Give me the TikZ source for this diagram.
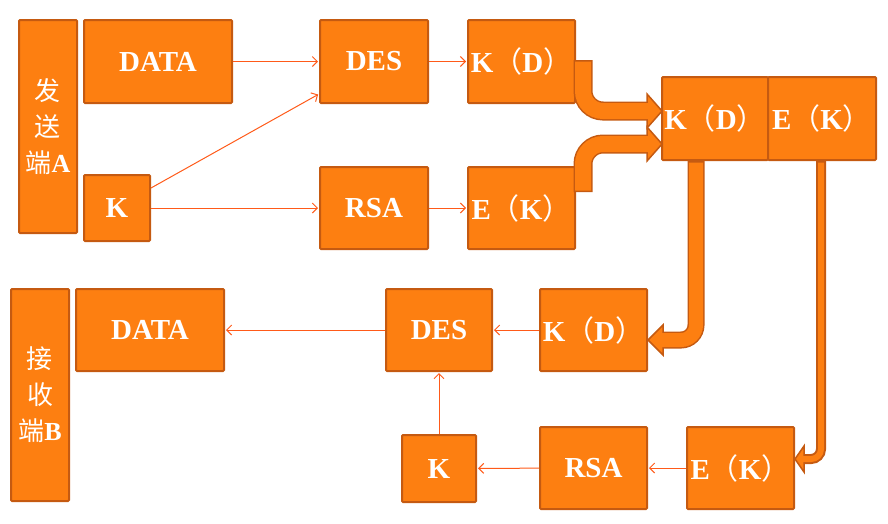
\documentclass[tikz,border=0pt]{standalone}
\usepackage{fontspec}
\setmainfont{Liberation Serif}
\newfontfamily\cjk{Noto Sans CJK SC}
\usetikzlibrary{positioning, arrows.meta}

\definecolor{boxfill}{RGB}{253,127,17}
\definecolor{boxline}{RGB}{197,90,17}
\definecolor{linkred}{RGB}{255,90,25}
\newcommand{\fwl}{{\cjk\mdseries （}}
\newcommand{\fwr}{{\cjk\mdseries ）}}

\begin{document}
\begin{tikzpicture}[x=1pt, y=-1pt,
    box/.style = {draw=boxline, fill=boxfill, line width=2pt, rounded corners=1pt,
                  text=white, inner sep=0pt, font=\fontsize{29}{32}\selectfont\bfseries},
    side/.style = {box, align=center, font=\fontsize{26}{36}\selectfont},
    arrow/.style = {draw=linkred, line width=1pt, shorten >=1pt,
                    -{Straight Barb[length=5pt, width=10pt]}},
    fatout/.style = {draw=boxline, line width=#1},
    fatin/.style = {draw=boxfill, line width=#1, shorten <=1.5pt},
    fathead/.style = {fill=boxfill, draw=boxline, line width=1.5pt}]

    \useasboundingbox (0,0) rectangle (888,523);

    % Sender
    \node [side, minimum width=58pt, minimum height=213pt] (send) at (48,126.5)
        {{\cjk 发}\\{\cjk 送}\\{\cjk 端}\textbf{A}};
    \node [box, minimum width=148pt, minimum height=83pt] (data1) at (158,61.5) {DATA};
    \node [box, minimum width=66pt, minimum height=66pt] (k1) at (117,208) {K};
    \node [box, minimum width=108pt, minimum height=83pt] (des1) at (374,61.5) {DES};
    \node [box, minimum width=107pt, minimum height=83pt] (kd1) at (521.5,61.5) {K\fwl D\fwr};
    \node [box, minimum width=108pt, minimum height=82pt] (rsa1) at (374,208) {RSA};
    \node [box, minimum width=107pt, minimum height=82pt] (ek1) at (521.5,208) {E\fwl K\fwr};

    % Packet
    \node [box, minimum width=106pt, minimum height=83pt] (kdc) at (715,118.5) {K\fwl D\fwr};
    \node [box, minimum width=108pt, minimum height=83pt] (ekc) [right=-2pt of kdc] {E\fwl K\fwr};

    % Receiver
    \node [side, minimum width=58pt, minimum height=212pt] (recv) at (40,395)
        {{\cjk 接}\\{\cjk 收}\\{\cjk 端}\textbf{B}};
    \node [box, minimum width=148pt, minimum height=82pt] (data2) at (150,330) {DATA};
    \node [box, minimum width=106pt, minimum height=82pt] (des2) at (439,330) {DES};
    \node [box, minimum width=107pt, minimum height=82pt] (kd2) at (593.5,330) {K\fwl D\fwr};
    \node [box, minimum width=74pt, minimum height=67pt] (k2) at (439,468.5) {K};
    \node [box, minimum width=107pt, minimum height=82pt] (rsa2) at (593.5,468) {RSA};
    \node [box, minimum width=107pt, minimum height=82pt] (ek2) at (740.5,468) {E\fwl K\fwr};

    % Transitions
    \draw [arrow] (data1) -- (des1);
    \draw [arrow] ([yshift=20pt]k1.east) -- ([yshift=10pt]des1.south west);
    \draw [arrow] (k1) -- (rsa1);
    \draw [arrow] (des1) -- (kd1);
    \draw [arrow] (rsa1) -- (ek1);
    \draw [arrow] (des2) -- (data2);
    \draw [arrow] (kd2) -- (des2);
    \draw [arrow] (k2) -- (des2);
    \draw [arrow] (rsa2) -- (k2);
    \draw [arrow] (ek2) -- (rsa2);

    % Block arrows
    \coordinate (tipA) at (662,111);
    \coordinate (tipB) at (662,144);
    \coordinate (tipC) at ([yshift=-10pt]kd2.east);
    \coordinate (tipD) at ([yshift=9pt]ek2.east);

    \draw [fatout=19pt, rounded corners=20pt] ([xshift=7pt,yshift=1.5pt]kd1.east) |- ([xshift=-15pt]tipA);
    \filldraw [fathead] ([xshift=-15pt,yshift=17pt]tipA) -- (tipA) -- ([xshift=-15pt,yshift=-17pt]tipA) -- cycle;
    \draw [fatin=16pt, rounded corners=20pt] ([xshift=7pt,yshift=1.5pt]kd1.east) |- ([xshift=-13pt]tipA);

    \draw [fatout=19pt, rounded corners=20pt] ([xshift=7pt,yshift=16pt]ek1.east) |- ([xshift=-15pt]tipB);
    \filldraw [fathead] ([xshift=-15pt,yshift=17pt]tipB) -- (tipB) -- ([xshift=-15pt,yshift=-17pt]tipB) -- cycle;
    \draw [fatin=16pt, rounded corners=20pt] ([xshift=7pt,yshift=16pt]ek1.east) |- ([xshift=-13pt]tipB);

    \draw [fatout=17pt, rounded corners=15pt] ([xshift=-19pt]kdc.south) |- ([xshift=15pt]tipC);
    \filldraw [fathead] ([xshift=15pt,yshift=15pt]tipC) -- (tipC) -- ([xshift=15pt,yshift=-15pt]tipC) -- cycle;
    \draw [fatin=14pt, rounded corners=15pt] ([xshift=-19pt]kdc.south) |- ([xshift=13pt]tipC);

    \draw [fatout=10pt, rounded corners=10pt] ([xshift=-1pt]ekc.south) |- ([xshift=9pt]tipD);
    \filldraw [fathead] ([xshift=9pt,yshift=13pt]tipD) -- (tipD) -- ([xshift=9pt,yshift=-13pt]tipD) -- cycle;
    \draw [fatin=6pt, rounded corners=10pt] ([xshift=-1pt]ekc.south) |- ([xshift=7pt]tipD);
\end{tikzpicture}
\end{document}
